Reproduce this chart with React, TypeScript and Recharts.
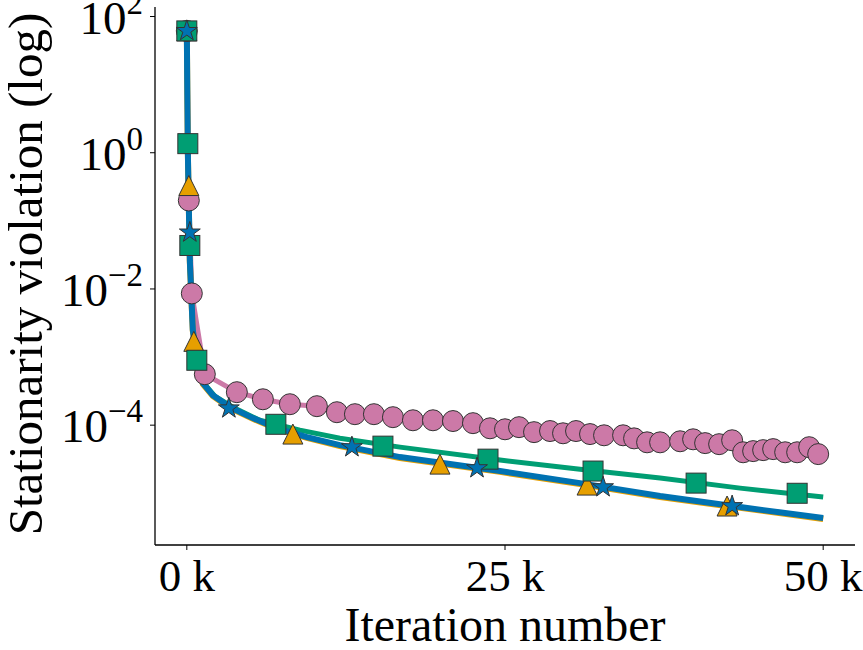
import React from 'react';
import { ComposedChart, Line, Scatter, XAxis, YAxis } from 'recharts';

// ---- tick labels ----
const xTicks = [0, 25000, 50000];
const xTickLabels = ['0 k', '25 k', '50 k'];
const yTicks = [1e-4, 1e-2, 1, 100];
const yTickExponents = ['\u22124', '\u22122', '0', '2'];

// ---- pink (circles) series: line + markers ----
const pinkX = [0, 157, 393, 1415, 3931, 5975, 8097, 10220, 11792, 13208, 14701, 16195, 17767, 19340, 20912, 22484, 23821, 25000, 26101, 27280, 28538, 29560, 30582, 31682, 32783, 34277, 35142, 36164, 37186, 38758, 39780, 40723, 41824, 42846, 43711, 44497, 45283, 46069, 47013, 47956, 48900, 49607];
const pinkY = [61.5, 0.199, 8.6e-3, 5.6e-4, 3.05e-4, 2.4e-4, 2.03e-4, 1.9e-4, 1.55e-4, 1.45e-4, 1.45e-4, 1.31e-4, 1.18e-4, 1.18e-4, 1.15e-4, 1.07e-4, 9.0e-5, 8.7e-5, 9.35e-5, 7.9e-5, 8.2e-5, 7.6e-5, 8.2e-5, 7.4e-5, 7.1e-5, 7.1e-5, 6.4e-5, 5.6e-5, 5.6e-5, 5.8e-5, 6.2e-5, 5.45e-5, 5.26e-5, 6.0e-5, 4.0e-5, 4.16e-5, 4.3e-5, 4.45e-5, 4.0e-5, 4.0e-5, 4.75e-5, 3.76e-5];

// ---- orange (triangles) ----
const orangeLineX = [0, 79, 236, 472, 865, 1258, 2044, 3381, 5189, 7075, 9434, 12028, 16745, 24607, 30896, 37186, 43475, 50000];
const orangeLineY = [61.5, 1.05, 0.025, 2.4e-3, 7.9e-4, 4.0e-4, 2.68e-4, 1.8e-4, 1.24e-4, 8.8e-5, 6.5e-5, 4.95e-5, 3.3e-5, 2.06e-5, 1.37e-5, 8.8e-6, 6.1e-6, 4.2e-6];
const orangeMarkX = [0, 157, 550, 8333, 19890, 31450, 42450];
const orangeMarkY = [61.5, 0.33, 1.7e-3, 7.4e-5, 2.68e-5, 1.32e-5, 6.5e-6];

// ---- green (squares) ----
const greenLineX = [0, 79, 236, 472, 865, 1336, 2201, 3774, 5739, 8884, 12028, 16745, 24607, 30896, 37186, 43475, 50000];
const greenLineY = [61.5, 1.08, 0.0262, 2.47e-3, 8.1e-4, 4.13e-4, 2.66e-4, 1.77e-4, 1.18e-4, 8.45e-5, 6.44e-5, 4.76e-5, 3.07e-5, 2.26e-5, 1.67e-5, 1.19e-5, 8.8e-6];
const greenMarkX = [0, 79, 236, 786, 6997, 15409, 23664, 31918, 40016, 47956];
const greenMarkY = [61.5, 1.36, 0.0435, 8.97e-4, 1.03e-4, 4.92e-5, 3.17e-5, 2.12e-5, 1.41e-5, 1.0e-5];

// ---- blue (stars) ----
const blueLineX = [0, 79, 236, 472, 865, 1258, 2044, 3381, 5189, 7075, 9434, 12028, 16745, 24607, 30896, 37186, 43475, 50000];
const blueLineY = [61.5, 1.08, 0.0262, 2.47e-3, 8.1e-4, 4.13e-4, 2.75e-4, 1.84e-4, 1.27e-4, 9.0e-5, 6.67e-5, 5.09e-5, 3.4e-5, 2.12e-5, 1.41e-5, 9.1e-6, 6.28e-6, 4.33e-6];
const blueMarkX = [0, 236, 3302, 12972, 22799, 32704, 42846];
const blueMarkY = [61.5, 0.0676, 1.77e-4, 4.76e-5, 2.34e-5, 1.23e-5, 6.5e-6];

const zip = (xs: number[], ys: number[]) => xs.map((x, i) => ({ x, y: ys[i] }));

const pinkData = zip(pinkX, pinkY);
const orangeLine = zip(orangeLineX, orangeLineY);
const orangeMarks = zip(orangeMarkX, orangeMarkY);
const greenLine = zip(greenLineX, greenLineY);
const greenMarks = zip(greenMarkX, greenMarkY);
const blueLine = zip(blueLineX, blueLineY);
const blueMarks = zip(blueMarkX, blueMarkY);

const PINK = '#CC79A7';
const ORANGE = '#E69F00';
const GREEN = '#009E73';
const BLUE = '#0072B2';
const EDGE = '#333333';
const FONT = '"Liberation Serif", "DejaVu Serif", serif';

const CircleMark = (p: any) => (
  <circle cx={p.cx} cy={p.cy} r={10.5} fill={PINK} stroke={EDGE} strokeWidth={1} />
);
const SquareMark = (p: any) => (
  <rect x={p.cx - 10} y={p.cy - 10} width={20} height={20} fill={GREEN} stroke={EDGE} strokeWidth={1} />
);
const TriMark = (p: any) => (
  <polygon
    points={`${p.cx},${p.cy - 10} ${p.cx - 10},${p.cy + 10} ${p.cx + 10},${p.cy + 10}`}
    fill={ORANGE}
    stroke={EDGE}
    strokeWidth={1}
  />
);
const StarMark = (p: any) => {
  const R = 11;
  const r = R * 0.382;
  const pts: string[] = [];
  for (let i = 0; i < 10; i++) {
    const ang = -Math.PI / 2 + (i * Math.PI) / 5;
    const rad = i % 2 === 0 ? R : r;
    pts.push(`${p.cx + rad * Math.cos(ang)},${p.cy + rad * Math.sin(ang)}`);
  }
  return <polygon points={pts.join(' ')} fill={BLUE} stroke={EDGE} strokeWidth={1} />;
};

const XTick = (p: any) => {
  const idx = xTicks.indexOf(p.payload.value);
  return (
    <text x={p.x} y={p.y + 39} textAnchor="middle" fontFamily={FONT} fontSize={45} fill="#000">
      {xTickLabels[idx]}
    </text>
  );
};

const YTick = (p: any) => {
  const idx = yTicks.indexOf(p.payload.value);
  return (
    <text x={p.x} y={p.y + 17} textAnchor="end" fontFamily={FONT} fontSize={47} fill="#000">
      <tspan>10</tspan>
      <tspan dy={-20} fontSize={33}>{yTickExponents[idx]}</tspan>
    </text>
  );
};

export default function App() {
  return (
    <div style={{ position: 'absolute', left: 0, top: 0, background: '#fff' }}>
      <ComposedChart width={863} height={650} margin={{ top: 7, right: 8, left: 0, bottom: 0 }}>
        <XAxis
          type="number"
          dataKey="x"
          domain={[-2500, 52500]}
          ticks={xTicks}
          allowDataOverflow
          height={105}
          tick={<XTick />}
          tickSize={5}
          tickMargin={2}
          axisLine={{ stroke: '#000', strokeWidth: 1.3 }}
          tickLine={{ stroke: '#000', strokeWidth: 1 }}
          label={{
            content: () => (
              <text x={505} y={641} textAnchor="middle" fontFamily={FONT} fontSize={48} fill="#000">
                Iteration number
              </text>
            ),
          }}
        />
        <YAxis
          type="number"
          dataKey="y"
          scale="log"
          domain={[1.74e-6, 138]}
          ticks={yTicks}
          allowDataOverflow
          width={155}
          tick={<YTick />}
          tickSize={5}
          tickMargin={7}
          axisLine={{ stroke: '#000', strokeWidth: 1.3 }}
          tickLine={{ stroke: '#000', strokeWidth: 1 }}
          label={{
            content: () => (
              <text
                x={42}
                y={274}
                transform="rotate(-90 42 274)"
                textAnchor="middle"
                fontFamily={FONT}
                fontSize={49}
                fill="#000"
              >
                Stationarity violation (log)
              </text>
            ),
          }}
        />
        <Line data={pinkData} dataKey="y" stroke={PINK} strokeWidth={5} dot={false} isAnimationActive={false} />
        <Scatter data={pinkData} dataKey="y" shape={CircleMark} isAnimationActive={false} />
        <Line data={orangeLine} dataKey="y" stroke={ORANGE} strokeWidth={6} dot={false} isAnimationActive={false} />
        <Scatter data={orangeMarks} dataKey="y" shape={TriMark} isAnimationActive={false} />
        <Line data={greenLine} dataKey="y" stroke={GREEN} strokeWidth={5} dot={false} isAnimationActive={false} />
        <Scatter data={greenMarks} dataKey="y" shape={SquareMark} isAnimationActive={false} />
        <Line data={blueLine} dataKey="y" stroke={BLUE} strokeWidth={6} dot={false} isAnimationActive={false} />
        <Scatter data={blueMarks} dataKey="y" shape={StarMark} isAnimationActive={false} />
      </ComposedChart>
    </div>
  );
}
